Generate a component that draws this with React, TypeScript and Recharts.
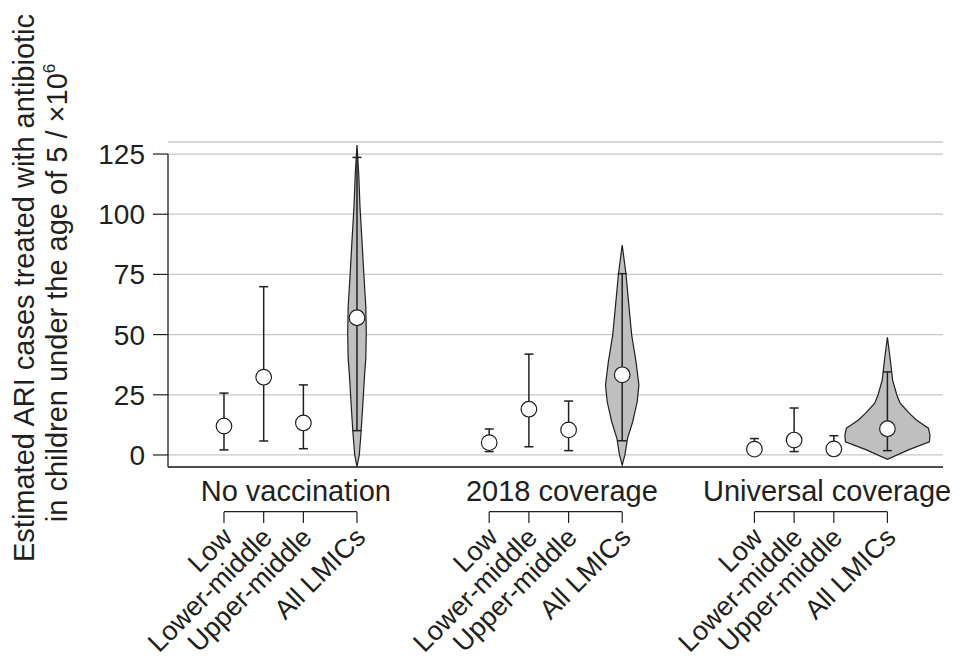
import {
  CartesianGrid,
  ComposedChart,
  ErrorBar,
  ReferenceLine,
  Scatter,
  XAxis,
  YAxis,
} from "recharts"

const scenarios = ["No vaccination", "2018 coverage", "Universal coverage"]
const incomeGroups = ["Low", "Lower-middle", "Upper-middle", "All LMICs"]

// x positions in axis units
const scenarioStart = [1.41, 8.09, 14.77]
const incomeOffset = [0, 1, 2, 3.35]
const scenarioLabelX = [3.22, 9.92, 16.6]

const yTicks = [0, 25, 50, 75, 100, 125]

// estimates (x10^6), per income group
const medianNoVacc = [12.0, 32.3, 13.3, 57.0]
const median2018 = [5.1, 19.0, 10.4, 33.3]
const medianUniversal = [2.4, 6.2, 2.5, 10.9]

const lowerNoVacc = [2.1, 5.8, 2.6, 10.1]
const lower2018 = [1.4, 3.4, 1.8, 5.9]
const lowerUniversal = [1.0, 1.4, 1.0, 1.8]

const upperNoVacc = [25.7, 69.9, 29.1, 123.6]
const upper2018 = [10.8, 41.9, 22.4, 75.3]
const upperUniversal = [6.8, 19.5, 8.0, 34.5]

// violin outlines for All LMICs: value levels and half widths (x units)
const violinLevelsNoVacc = [128.7, 117, 103, 89, 75.5, 61.6, 50.5, 40, 34, 20, 9, 0, -4.8]
const violinWidthNoVacc = [0, 0.043, 0.076, 0.126, 0.171, 0.222, 0.234, 0.222, 0.194, 0.144, 0.101, 0.058, 0]

const violinLevels2018 = [87.2, 75.5, 63.7, 49.8, 38.8, 29.1, 22.1, 13.8, 6.9, 0, -4.2]
const violinWidth2018 = [0, 0.093, 0.159, 0.239, 0.348, 0.421, 0.378, 0.264, 0.134, 0.068, 0]

const violinLevelsUniversal = [48.9, 40.8, 34.5, 31.1, 24.9, 21.5, 17.3, 14.5, 12.2, 11.1, 8.3, 5.5, 2.1, -1.8]
const violinWidthUniversal = [0, 0.063, 0.108, 0.131, 0.237, 0.32, 0.554, 0.73, 0.932, 1.033, 1.071, 1.058, 0.529, 0]

const medians = [medianNoVacc, median2018, medianUniversal]
const lowers = [lowerNoVacc, lower2018, lowerUniversal]
const uppers = [upperNoVacc, upper2018, upperUniversal]
const violinLevels = [violinLevelsNoVacc, violinLevels2018, violinLevelsUniversal]
const violinWidths = [violinWidthNoVacc, violinWidth2018, violinWidthUniversal]

const INK = "#231f20"
const FONT = '"Liberation Sans", Arial, Helvetica, sans-serif'

const points = scenarios.flatMap((_, s) =>
  incomeGroups.map((_, i) => {
    const y = medians[s][i]
    return {
      x: scenarioStart[s] + incomeOffset[i],
      y,
      err: [y - lowers[s][i], uppers[s][i] - y],
    }
  })
)

const violins = scenarios.map((_, s) => {
  const cx = scenarioStart[s] + incomeOffset[3]
  const levels = violinLevels[s]
  const w = violinWidths[s]
  const right = levels.map((y, k) => ({ x: cx + w[k], y }))
  const left = levels.map((y, k) => ({ x: cx - w[k], y })).reverse()
  return [...right, ...left]
})

type TickInfo = { kind: "scenario" | "income"; label: string }
const tickInfo = new Map<number, TickInfo>()
const xTicks: number[] = []
scenarios.forEach((name, s) => {
  incomeGroups.forEach((g, i) => {
    const v = scenarioStart[s] + incomeOffset[i]
    xTicks.push(v)
    tickInfo.set(v, { kind: "income", label: g })
  })
  xTicks.push(scenarioLabelX[s])
  tickInfo.set(scenarioLabelX[s], { kind: "scenario", label: name })
})

const BRACKET_Y = -23.5

function XTick(props: any) {
  const { x, y, payload } = props
  const info = tickInfo.get(payload.value)
  if (!info) return null
  if (info.kind === "scenario") {
    return (
      <text x={x} y={y + 34} textAnchor="middle" fontSize={29} fill={INK} fontFamily={FONT}>
        {info.label}
      </text>
    )
  }
  return (
    <g>
      <line x1={x} x2={x} y1={y + 45} y2={y + 56} stroke={INK} strokeWidth={1.2} />
      <text
        transform={`translate(${x + 10},${y + 72}) rotate(-45)`}
        textAnchor="end"
        fontSize={27}
        fill={INK}
        fontFamily={FONT}
      >
        {info.label}
      </text>
    </g>
  )
}

function YLabel() {
  return (
    <g fill={INK} fontFamily={FONT} fontSize={29}>
      <text transform="translate(34,288) rotate(-90)" textAnchor="middle">
        Estimated ARI cases treated with antibiotic
      </text>
      <text transform="translate(67,293) rotate(-90)" textAnchor="middle">
        in children under the age of 5 / ×10
        <tspan fontSize={17} dy={-12}>6</tspan>
      </text>
    </g>
  )
}

const Circle = (p: any) => (
  <circle cx={p.cx} cy={p.cy} r={7.8} fill="#ffffff" stroke={INK} strokeWidth={1.2} />
)
const Nothing = () => <g />

export default function App() {
  return (
    <div style={{ position: "absolute", left: 0, top: 0, fontFamily: FONT }}>
      <ComposedChart
        width={962}
        height={657}
        margin={{ top: 142, right: 19, bottom: 0, left: 0 }}
        style={{ fontFamily: FONT }}
      >
        <CartesianGrid vertical={false} stroke="#c8c8c8" strokeWidth={1.3} />
        <XAxis
          type="number"
          dataKey="x"
          domain={[0, 19.52]}
          ticks={xTicks}
          interval={0}
          height={190}
          tickSize={0}
          tickMargin={0}
          tickLine={false}
          axisLine={{ stroke: INK, strokeWidth: 1.3 }}
          tick={<XTick />}
        />
        <YAxis
          type="number"
          dataKey="y"
          domain={[-5, 130]}
          ticks={yTicks}
          interval={0}
          width={168}
          tickSize={15}
          tickMargin={8}
          axisLine={false}
          tickLine={{ stroke: INK, strokeWidth: 1.2 }}
          tick={{ fontSize: 28, fill: INK, fontFamily: FONT }}
          label={<YLabel />}
        />
        <ReferenceLine
          segment={[{ x: 0, y: -5 }, { x: 0, y: 125 }]}
          stroke={INK}
          strokeWidth={1.3}
          ifOverflow="visible"
        />
        {scenarios.map((name, s) => (
          <ReferenceLine
            key={`br-${name}`}
            segment={[
              { x: scenarioStart[s] + incomeOffset[0], y: BRACKET_Y },
              { x: scenarioStart[s] + incomeOffset[3], y: BRACKET_Y },
            ]}
            stroke={INK}
            strokeWidth={1.2}
            ifOverflow="visible"
          />
        ))}
        {violins.map((v, s) => (
          <Scatter
            key={`violin-${s}`}
            data={v}
            line={{ stroke: INK, strokeWidth: 1.2, fill: "#bfbfbf" }}
            lineType="joint"
            lineJointType="linear"
            shape={Nothing}
            zIndex={350}
            isAnimationActive={false}
          />
        ))}
        <Scatter data={points} shape={Nothing} zIndex={640} isAnimationActive={false}>
          <ErrorBar dataKey="err" direction="y" width={4.5} stroke={INK} strokeWidth={1.5} zIndex={650} />
        </Scatter>
        <Scatter data={points} shape={Circle} zIndex={700} isAnimationActive={false} />
      </ComposedChart>
    </div>
  )
}
